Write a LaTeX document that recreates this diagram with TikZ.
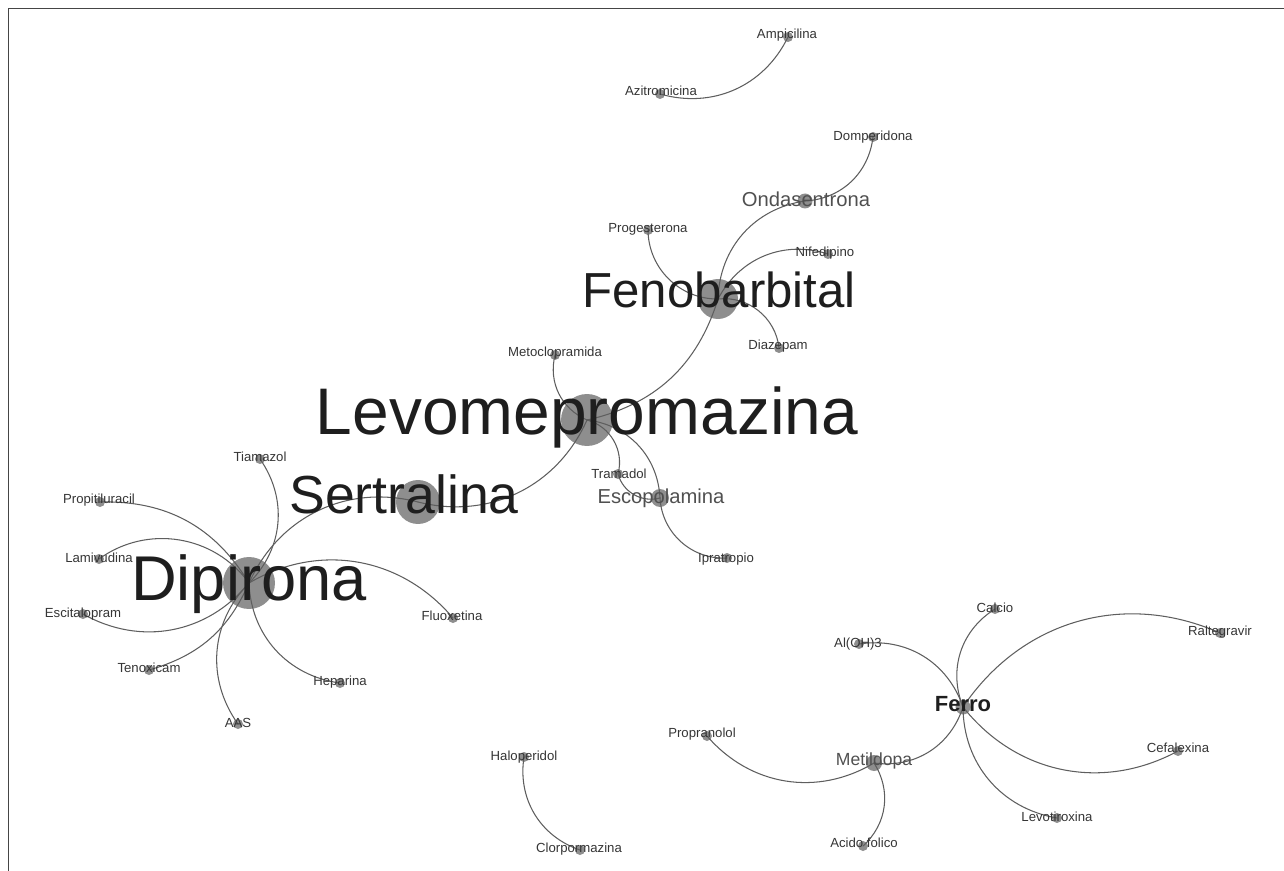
\documentclass[tikz,border=0pt]{standalone}
\usepackage{fontspec}
\setmainfont{Liberation Sans}
\definecolor{dotgray}{HTML}{8E8E8E}
\definecolor{linkgray}{HTML}{5E5E5E}
\definecolor{framegray}{HTML}{454545}
\definecolor{textdark}{HTML}{1E1E1E}
\definecolor{textmid}{HTML}{505050}
\begin{document}
\begin{tikzpicture}[x=0.02cm,y=-0.02cm,line cap=round,line join=round,
  drug/.style={circle,fill=dotgray,inner sep=0pt,minimum size=#1},
  drug/.default=0.2cm,
  link/.style={draw=linkgray,line width=0.6pt},
  lbl/.style={anchor=base,inner sep=0pt,text=textdark!90,font=\fontsize{7.5}{9}\selectfont},
  hub/.style={anchor=base,inner sep=0pt,text=textdark,font=\fontsize{#1}{#1}\selectfont},
  mid/.style={anchor=base,inner sep=0pt,text=textmid,font=\fontsize{#1}{#1}\selectfont}]
  \useasboundingbox (0,0) rectangle (1284,871);
  \draw[framegray,line width=1pt,line cap=butt] (8.5,871) -- (8.5,8.5) -- (1284,8.5);
  \node[drug] (Amp) at (788,37) {};
  \node[drug] (Azi) at (660,94) {};
  \node[drug] (Dom) at (873,137) {};
  \node[drug=0.3cm] (Ond) at (805,201) {};
  \node[drug] (Pro) at (648,230) {};
  \node[drug] (Nif) at (828,254) {};
  \node[drug=0.8cm] (Fen) at (718,299) {};
  \node[drug] (Dia) at (779,348) {};
  \node[drug] (Met) at (555,355) {};
  \node[drug=1.04cm] (Lev) at (587,420) {};
  \node[drug] (Tra) at (618,474) {};
  \node[drug=0.36cm] (Esc) at (660,498) {};
  \node[drug] (Ipr) at (727,558) {};
  \node[drug=0.88cm] (Ser) at (418,502) {};
  \node[drug] (Tia) at (260,459) {};
  \node[drug] (Ptu) at (100,502) {};
  \node[drug] (Lam) at (99,559) {};
  \node[drug=1.04cm] (Dip) at (249,583) {};
  \node[drug] (Eci) at (83,614) {};
  \node[drug] (Flu) at (453,618) {};
  \node[drug] (Ten) at (149,670) {};
  \node[drug] (Hep) at (340,683) {};
  \node[drug] (AAS) at (238,724) {};
  \node[drug] (Cal) at (995,609) {};
  \node[drug] (Alo) at (859,644) {};
  \node[drug] (Ral) at (1220,633) {};
  \node[drug=0.3cm] (Fer) at (963,707) {};
  \node[drug] (Prp) at (707,736) {};
  \node[drug=0.32cm] (Mdp) at (874,763) {};
  \node[drug] (Cef) at (1178,751) {};
  \node[drug] (Lvt) at (1057,818) {};
  \node[drug] (Acf) at (863,846) {};
  \node[drug] (Hal) at (524,757) {};
  \node[drug] (Clo) at (580,850) {};
  \draw[link] (Azi.center) to[bend right=40] (Amp.center);
  \draw[link] (Ond.center) to[bend right=40] (Dom.center);
  \draw[link] (Fen.center) to[bend left=40] (Ond.center);
  \draw[link] (Pro.center) to[bend right=45] (Fen.center);
  \draw[link] (Fen.center) to[bend left=40] (Nif.center);
  \draw[link] (Fen.center) to[bend left=45] (Dia.center);
  \draw[link] (Lev.center) to[bend right=30] (Fen.center);
  \draw[link] (Met.center) to[bend right=40] (Lev.center);
  \draw[link] (Lev.center) to[bend left=45] (Tra.center);
  \draw[link] (Lev.center) to[bend left=40] (Esc.center);
  \draw[link] (Tra.center) to[bend right=45] (Esc.center);
  \draw[link] (Esc.center) to[bend right=45] (Ipr.center);
  \draw[link] (Ser.center) to[bend right=40] (Lev.center);
  \draw[link] (Dip.center) to[bend left=40] (Ser.center);
  \draw[link] (Tia.center) to[bend left=40] (Dip.center);
  \draw[link] (Ptu.center) to[bend left=30] (Dip.center);
  \draw[link] (Lam.center) to[bend left=45] (Dip.center);
  \draw[link] (Eci.center) to[bend right=40] (Dip.center);
  \draw[link] (Ten.center) to[bend right=25] (Dip.center);
  \draw[link] (AAS.center) to[bend left=40] (Dip.center);
  \draw[link] (Dip.center) to[bend right=40] (Hep.center);
  \draw[link] (Dip.center) to[bend left=40] (Flu.center);
  \draw[link] (Fer.center) to[bend left=40] (Cal.center);
  \draw[link] (Alo.center) to[bend left=40] (Fer.center);
  \draw[link] (Fer.center) to[bend left=40] (Ral.center);
  \draw[link] (Fer.center) to[bend right=40] (Cef.center);
  \draw[link] (Fer.center) to[bend right=40] (Lvt.center);
  \draw[link] (Fer.center) to[bend left=40] (Mdp.center);
  \draw[link] (Prp.center) to[bend right=40] (Mdp.center);
  \draw[link] (Mdp.center) to[bend left=40] (Acf.center);
  \draw[link] (Hal.center) to[bend right=40] (Clo.center);
  \node[lbl] (tAmp) at (787,39) {Ampicilina};
  \node[lbl] (tAzi) at (661,96) {Azitromicina};
  \node[lbl] (tDom) at (873,141) {Domperidona};
  \node[mid=11.5] (tOnd) at (806,207) {Ondasentrona};
  \node[lbl] (tPro) at (648,233) {Progesterona};
  \node[lbl] (tNif) at (825,257) {Nifedipino};
  \node[hub=28] (tFen) at (719,308) {Fenobarbital};
  \node[lbl] (tDia) at (778,350) {Diazepam};
  \node[lbl] (tMet) at (555,357) {Metoclopramida};
  \node[hub=37.5] (tLev) at (587,434) {Levomepromazina};
  \node[lbl] (tTra) at (619,478) {Tramadol};
  \node[mid=11.5] (tEsc) at (661,503) {Escopolamina};
  \node[lbl] (tIpr) at (726,562) {Ipratropio};
  \node[hub=30.5] (tSer) at (404,513) {Sertralina};
  \node[lbl] (tTia) at (260,461) {Tiamazol};
  \node[lbl] (tPtu) at (99,503) {Propitiluracil};
  \node[lbl] (tLam) at (99,562) {Lamivudina};
  \node[hub=36] (tDip) at (249,600) {Dipirona};
  \node[lbl] (tEci) at (83,617) {Escitalopram};
  \node[lbl] (tFlu) at (452,620) {Fluoxetina};
  \node[lbl] (tTen) at (149,672) {Tenoxicam};
  \node[lbl] (tHep) at (340,685) {Heparina};
  \node[lbl] (tAAS) at (238,727) {AAS};
  \node[lbl] (tCal) at (995,612) {Calcio};
  \node[lbl] (tAlo) at (858,647) {Al(OH)3};
  \node[lbl] (tRal) at (1220,635) {Raltegravir};
  \node[hub=12.5,font=\fontsize{12.5}{12.5}\selectfont\bfseries] (tFer) at (963,711) {Ferro};
  \node[lbl] (tPrp) at (702,737) {Propranolol};
  \node[mid=10] (tMdp) at (874,765) {Metildopa};
  \node[lbl] (tCef) at (1178,752) {Cefalexina};
  \node[lbl] (tLvt) at (1057,821) {Levotiroxina};
  \node[lbl] (tAcf) at (864,847) {Acido folico};
  \node[lbl] (tHal) at (524,760) {Haloperidol};
  \node[lbl] (tClo) at (579,852) {Clorpormazina};
\end{tikzpicture}
\end{document}
